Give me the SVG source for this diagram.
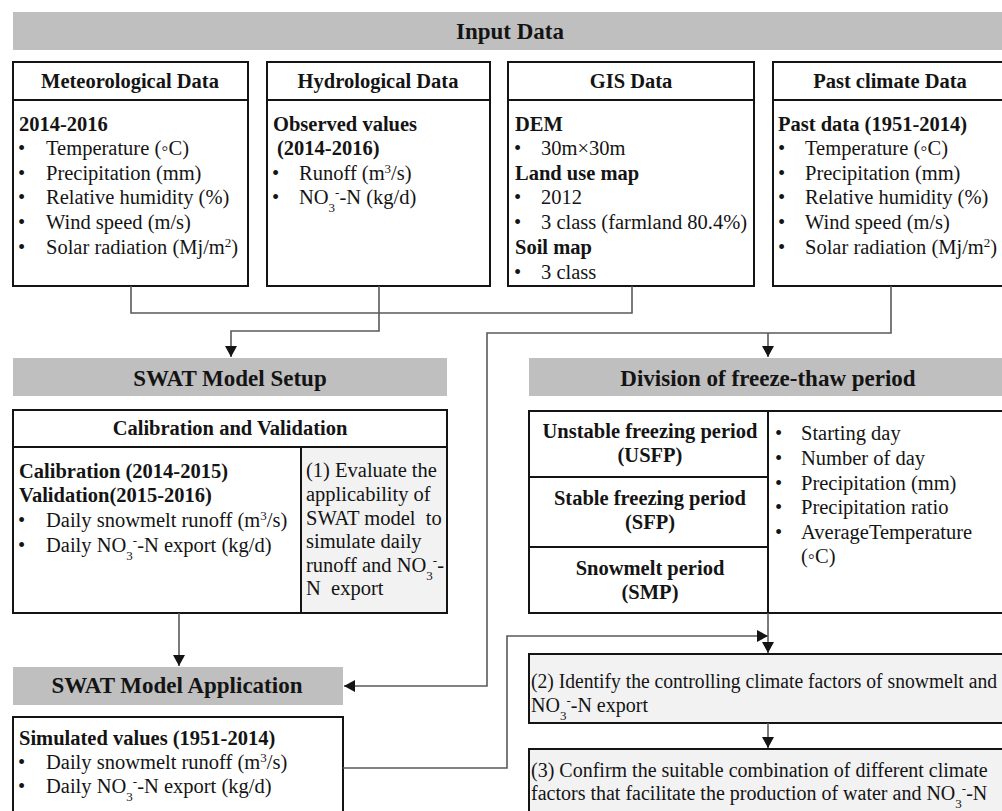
<svg xmlns="http://www.w3.org/2000/svg" width="1002" height="811" viewBox="0 0 1002 811">
<style>
text{font-family:'Liberation Serif','DejaVu Serif',serif;font-size:20.5px;fill:#141414}
.b{font-weight:bold}
.h{font-size:23px;font-weight:bold;text-anchor:middle}
.c{text-anchor:middle}
.box{fill:#fff;stroke:#141414;stroke-width:2}
.bar{fill:#bfbfbf}
.lt{fill:#f2f2f2;stroke:#141414;stroke-width:2}
.ln{stroke:#141414;stroke-width:2}
.con{fill:none;stroke:#5a5a5a;stroke-width:1.6}
.s{font-size:13px}
.f{font-size:20px}
</style>
<defs>
<marker id="ah" markerUnits="userSpaceOnUse" markerWidth="12" markerHeight="12" refX="11" refY="6" orient="auto"><path d="M0,0 L11,6 L0,12 z" fill="#141414"/></marker>
</defs>

<g id="input-data">
<rect class="bar" x="13" y="12" width="995" height="38"/>
<text class="h" x="510" y="39">Input Data</text>
</g>

<g id="meteorological">
<rect class="box" x="13" y="62" width="235" height="224"/>
<line class="ln" x1="13" y1="100" x2="248" y2="100"/>
<text class="b c" x="130" y="88">Meteorological Data</text>
<text class="b" x="19" y="131">2014-2016</text>
<text x="18" y="155">•</text><text x="46" y="155">Temperature (◦C)</text>
<text x="18" y="180">•</text><text x="46" y="180">Precipitation (mm)</text>
<text x="18" y="204">•</text><text x="46" y="204">Relative humidity (%)</text>
<text x="18" y="229">•</text><text x="46" y="229">Wind speed (m/s)</text>
<text x="18" y="254">•</text><text x="46" y="254">Solar radiation (Mj/m<tspan class="s" baseline-shift="super">2</tspan>)</text>
</g>

<g id="hydrological">
<rect class="box" x="267" y="62" width="223" height="224"/>
<line class="ln" x1="267" y1="100" x2="490" y2="100"/>
<text class="b c" x="378" y="88">Hydrological Data</text>
<text class="b" x="273" y="131">Observed values</text>
<text class="b" x="277" y="155">(2014-2016)</text>
<text x="272" y="180">•</text><text x="299" y="180">Runoff (m<tspan class="s" baseline-shift="super">3</tspan>/s)</text>
<text x="272" y="204">•</text><text x="299" y="204">NO<tspan class="s" baseline-shift="sub">3</tspan><tspan class="s" baseline-shift="super">-</tspan>-N (kg/d)</text>
</g>

<g id="gis">
<rect class="box" x="508" y="62" width="246" height="224"/>
<line class="ln" x1="508" y1="100" x2="754" y2="100"/>
<text class="b c" x="631" y="88">GIS Data</text>
<text class="b" x="515" y="131">DEM</text>
<text x="514" y="155">•</text><text x="541" y="155">30m×30m</text>
<text class="b" x="515" y="180">Land use map</text>
<text x="514" y="204">•</text><text x="541" y="204">2012</text>
<text x="514" y="229">•</text><text x="541" y="229">3 class (farmland 80.4%)</text>
<text class="b" x="515" y="254">Soil map</text>
<text x="514" y="279">•</text><text x="541" y="279">3 class</text>
</g>

<g id="past-climate">
<rect class="box" x="773" y="62" width="240" height="224"/>
<line class="ln" x1="773" y1="100" x2="1010" y2="100"/>
<text class="b c" x="890" y="88">Past climate Data</text>
<text class="b" x="778" y="131">Past data (1951-2014)</text>
<text x="778" y="155">•</text><text x="805" y="155">Temperature (◦C)</text>
<text x="778" y="180">•</text><text x="805" y="180">Precipitation (mm)</text>
<text x="778" y="204">•</text><text x="805" y="204">Relative humidity (%)</text>
<text x="778" y="229">•</text><text x="805" y="229">Wind speed (m/s)</text>
<text x="778" y="254">•</text><text x="805" y="254">Solar radiation (Mj/m<tspan class="s" baseline-shift="super">2</tspan>)</text>
</g>

<g id="swat-setup">
<rect class="bar" x="13" y="358" width="434" height="38"/>
<text class="h" x="230" y="386">SWAT Model Setup</text>
</g>

<g id="calibration">
<rect class="box" x="13" y="410" width="434" height="203"/>
<rect class="lt" x="301" y="447" width="146" height="166"/>
<line class="ln" x1="13" y1="447" x2="447" y2="447"/>
<text class="b c" x="230" y="435">Calibration and Validation</text>
<text class="b" x="19" y="478">Calibration (2014-2015)</text>
<text class="b" x="19" y="502">Validation(2015-2016)</text>
<text x="18" y="527">•</text><text x="46" y="527">Daily snowmelt runoff (m<tspan class="s" baseline-shift="super">3</tspan>/s)</text>
<text x="18" y="552">•</text><text x="46" y="552">Daily NO<tspan class="s" baseline-shift="sub">3</tspan><tspan class="s" baseline-shift="super">-</tspan>-N export (kg/d)</text>
<text x="306" y="477">(1) Evaluate the</text>
<text x="306" y="501">applicability of</text>
<text x="306" y="525" xml:space="preserve">SWAT model  to</text>
<text x="306" y="548">simulate daily</text>
<text x="306" y="572">runoff and NO<tspan class="s" baseline-shift="sub">3</tspan><tspan class="s" baseline-shift="super">-</tspan>-</text>
<text x="306" y="595" xml:space="preserve">N  export</text>
</g>

<g id="division">
<rect class="bar" x="529" y="358" width="480" height="38"/>
<text class="h" x="768" y="386">Division of freeze-thaw period</text>
</g>

<g id="division-table">
<rect class="box" x="529" y="411" width="480" height="202"/>
<line class="ln" x1="768" y1="411" x2="768" y2="613"/>
<line class="ln" x1="529" y1="477" x2="768" y2="477"/>
<line class="ln" x1="529" y1="547" x2="768" y2="547"/>
<text class="b c" x="650" y="438">Unstable freezing period</text>
<text class="b c" x="650" y="462">(USFP)</text>
<text class="b c" x="650" y="505">Stable freezing period</text>
<text class="b c" x="650" y="529">(SFP)</text>
<text class="b c" x="650" y="575">Snowmelt period</text>
<text class="b c" x="650" y="599">(SMP)</text>
<text x="775" y="440">•</text><text x="801" y="440">Starting day</text>
<text x="775" y="465">•</text><text x="801" y="465">Number of day</text>
<text x="775" y="490">•</text><text x="801" y="490">Precipitation (mm)</text>
<text x="775" y="514">•</text><text x="801" y="514">Precipitation ratio</text>
<text x="775" y="539">•</text><text x="801" y="539">AverageTemperature</text>
<text x="801" y="563">(◦C)</text>
</g>

<g id="swat-application">
<rect class="bar" x="13" y="667" width="330" height="38"/>
<text class="h" x="177" y="693">SWAT Model Application</text>
</g>

<g id="simulated">
<rect class="box" x="13" y="717" width="330" height="110"/>
<text class="b" x="19" y="745">Simulated values (1951-2014)</text>
<text x="18" y="769">•</text><text x="46" y="769">Daily snowmelt runoff (m<tspan class="s" baseline-shift="super">3</tspan>/s)</text>
<text x="18" y="793">•</text><text x="46" y="793">Daily NO<tspan class="s" baseline-shift="sub">3</tspan><tspan class="s" baseline-shift="super">-</tspan>-N export (kg/d)</text>
</g>

<g id="step2">
<rect class="lt" x="529" y="654" width="480" height="69"/>
<text class="f" x="531" y="688" textLength="466" lengthAdjust="spacingAndGlyphs">(2) Identify the controlling climate factors of snowmelt and</text>
<text class="f" x="531" y="712">NO<tspan class="s" baseline-shift="sub">3</tspan><tspan class="s" baseline-shift="super">-</tspan>-N export</text>
</g>

<g id="step3">
<rect class="lt" x="529" y="749" width="480" height="80"/>
<text class="f" x="531" y="777">(3) Confirm the suitable combination of different climate</text>
<text class="f" x="531" y="800">factors that facilitate the production of water and NO<tspan class="s" baseline-shift="sub">3</tspan><tspan class="s" baseline-shift="super">-</tspan>-N</text>
</g>

<g id="connectors">
<path class="con" d="M131,286 V313 H632 V286"/>
<path class="con" d="M379,286 V331 H231 V357" marker-end="url(#ah)"/>
<path class="con" d="M891,286 V333 H487 V686 H344" marker-end="url(#ah)"/>
<path class="con" d="M768,333 V357" marker-end="url(#ah)"/>
<path class="con" d="M179,613 V666" marker-end="url(#ah)"/>
<path class="con" d="M343,768 H507 V636 H768" marker-end="url(#ah)"/>
<path class="con" d="M768,613 V653" marker-end="url(#ah)"/>
<path class="con" d="M768,723 V748" marker-end="url(#ah)"/>
</g>
</svg>
